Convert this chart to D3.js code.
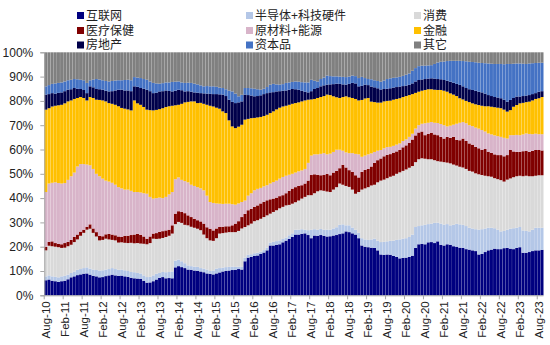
<!DOCTYPE html>
<html><head><meta charset="utf-8">
<script src="https://cdn.jsdelivr.net/npm/d3@7"></script>
<style>
body{margin:0;background:#fff}
svg{display:block;font-family:"Liberation Sans",Arial,"Noto Sans CJK SC",sans-serif}
</style>
</head><body>
<svg id="chart" width="550" height="345"></svg>
<script>
// ---------------- DATA ----------------
const monthNames = ["Jan","Feb","Mar","Apr","May","Jun","Jul","Aug","Sep","Oct","Nov","Dec"];
const categories = [];
for (let i = 0; i < 158; i++) {
  const m = (7 + i) % 12, yr = 10 + Math.floor((7 + i) / 12);
  categories.push(monthNames[m] + "-" + String(yr).padStart(2, "0"));
}
const tickLabels = ["Aug-10","Feb-11","Aug-11","Feb-12","Aug-12","Feb-13","Aug-13","Feb-14","Aug-14",
  "Feb-15","Aug-15","Feb-16","Aug-16","Feb-17","Aug-17","Feb-18","Aug-18","Feb-19","Aug-19",
  "Feb-20","Aug-20","Feb-21","Aug-21","Feb-22","Aug-22","Feb-23","Aug-23"];
const yTicks = [0,0.1,0.2,0.3,0.4,0.5,0.6,0.7,0.8,0.9,1.0];

const seriesNames = ["互联网","半导体+科技硬件","消费","医疗保健","原材料+能源","金融","房地产","资本品","其它"];
const seriesColors = ["#000080","#B4C7E7","#D9D9D9","#800000","#D8B4C9","#FFC000","#00004A","#4472C4","#808080"];

const internet = [6.2,6.5,6.0,5.8,5.5,5.8, 6.0,6.6,7.4,7.8,8.3,8.6, 8.9,9.0,8.5,8.0,7.8,7.4, 7.5,7.9,8.2,8.5,8.2,8.0,
  8.1,7.8,7.6,7.2,7.0,6.9, 6.8,6.0,5.2,5.3,5.8,6.5, 7.2,7.5,7.0,7.1,7.0,11.5, 12.0,11.6,11.2,10.6,10.5,10.2,
  10.0,9.8,9.5,9.0,8.8,8.6, 9.0,9.4,9.8,10.0,10.2,10.4, 10.5,10.8,10.6,14.0,15.5,15.8, 16.2,16.4,17.0,17.6,18.5,20.5,
  20.5,20.8,21.0,21.8,22.5,23.2, 24.0,25.0,25.0,25.3,25.5,24.8, 23.5,24.6,24.5,24.8,24.5,24.2, 24.3,24.6,24.8,25.2,25.5,26.3,
  26.0,25.5,25.0,23.5,20.5,20.0, 19.8,19.6,19.5,18.5,16.8,16.6, 16.8,16.7,16.2,15.8,15.2,15.4, 15.5,15.8,16.3,19.5,21.0,21.2,
  21.0,21.8,21.9,21.5,22.2,20.8, 20.5,21.0,20.8,20.2,20.0,19.6, 19.5,19.0,18.8,18.5,18.2,16.8, 17.0,17.8,18.5,18.8,19.2,19.0,
  19.0,19.4,19.5,19.2,19.0,19.5, 19.8,17.5,17.5,17.8,18.2,18.5, 18.5,18.7];
const semi = [1.6,1.7,1.8,1.8,1.9,2.0, 2.0,1.9,1.8,2.0,2.2,2.2, 2.3,2.5,2.5,2.6,2.6,2.8, 2.8,2.7,2.6,2.7,2.6,2.5,
  2.5,2.5,2.4,2.4,2.5,2.3, 2.2,2.2,2.3,2.3,2.4,2.4, 2.0,2.1,2.5,2.5,2.8,2.8, 2.7,2.4,2.0,1.7,1.5,1.6,
  1.7,1.4,1.5,1.6,1.2,1.6, 2.0,1.8,1.6,1.6,1.5,1.4, 1.2,1.0,1.1,1.5,1.2,1.1, 1.1,1.1,1.0,1.0,1.1,1.2,
  1.5,1.5,1.6,1.4,1.3,1.5, 1.5,2.0,2.0,1.9,1.5,2.0, 3.5,2.6,2.5,2.5,2.5,2.8, 2.7,2.9,3.2,3.8,3.7,2.5,
  2.8,2.4,2.0,2.2,3.0,3.0, 3.0,3.4,3.8,4.0,5.1,5.4, 5.4,5.7,6.3,7.0,7.8,7.9, 8.0,8.2,8.7,8.6,7.5,7.6,
  8.0,7.5,7.6,8.3,7.7,8.7, 8.6,8.3,8.0,8.8,9.4,9.6, 9.5,9.5,9.0,9.0,9.0,10.2, 10.2,9.7,9.3,9.0,8.4,8.0,
  7.3,7.1,7.5,8.2,8.6,8.3, 8.3,9.2,9.0,8.5,8.8,9.3, 9.3,9.1];
const consumer = [10.7,12.2,12.4,12.4,12.4,11.7, 11.6,11.7,11.6,12.1,12.5,13.7, 14.5,15.5,16.4,15.1,13.8,12.4, 12.5,12.7,12.2,11.6,11.8,11.2,
  11.2,11.3,11.5,12.0,11.9,12.3, 12.3,13.0,13.5,13.9,15.1,14.3, 14.1,14.0,14.5,14.9,15.6,15.0, 15.5,15.8,15.8,16.5,16.2,16.0,
  15.7,15.6,14.0,12.9,12.6,12.2, 12.5,14.2,14.2,14.2,14.3,14.2, 14.3,14.7,15.8,12.6,12.1,12.6, 13.2,13.4,13.5,13.6,13.3,11.9,
  12.3,12.7,13.2,13.2,13.2,12.5, 12.2,11.3,12.0,12.6,13.5,14.4, 14.2,14.8,15.8,15.9,16.0,15.7, 15.5,16.0,16.5,17.0,16.3,16.2,
  15.8,15.6,14.8,16.8,20.0,21.0, 21.7,22.2,22.2,24.0,25.3,25.6, 26.0,26.4,26.7,27.2,27.6,27.9, 28.3,28.5,28.2,26.7,27.5,27.6,
  27.2,26.7,26.5,25.8,25.3,25.5, 25.7,25.3,25.5,24.8,24.0,23.7, 23.6,23.5,23.4,23.4,23.0,22.8, 22.3,21.7,21.2,21.0,20.6,20.8,
  21.1,20.3,20.6,20.7,21.0,21.2, 21.1,22.3,22.7,22.7,22.0,21.4, 21.6,21.6];
const health = [1.4,1.6,2.0,1.5,1.4,1.5, 1.9,1.8,2.0,2.1,2.0,1.7, 1.3,1.2,1.8,1.8,1.8,1.9, 1.5,1.8,2.3,2.2,2.1,2.5,
  2.2,2.9,3.0,3.2,3.6,3.8, 3.6,3.0,2.3,2.7,2.1,2.4, 2.8,2.8,2.7,2.5,3.4,4.3, 4.4,4.5,4.8,4.1,4.0,3.7,
  3.5,3.6,4.5,4.5,4.8,4.3, 4.0,2.7,2.6,2.6,2.4,2.8, 3.5,4.0,4.7,5.4,6.2,6.1, 5.9,6.1,6.3,6.3,6.2,5.9,
  5.5,5.2,5.0,4.8,5.0,5.8, 6.2,6.2,6.0,5.5,5.5,6.0, 8.3,7.8,6.8,6.2,6.5,7.3, 6.9,7.0,6.7,6.3,8.2,7.6,
  6.9,7.3,7.6,6.0,7.3,7.6, 7.5,7.8,9.0,9.1,9.1,9.6, 9.6,9.3,9.5,9.2,9.2,9.7, 9.9,10.2,10.9,11.0,11.0,11.0,
  9.7,10.4,10.9,10.6,10.7,10.2, 9.7,10.6,10.5,11.4,10.6,10.9, 11.9,11.5,11.3,11.1,10.9,10.7, 10.3,11.0,10.1,9.8,9.8,9.9,
  10.3,10.4,10.1,11.7,10.6,10.0, 9.8,10.3,10.3,10.0,10.4,10.6, 10.4,10.2];
const materials = [22.6,24.0,24.1,25.0,25.0,25.0, 24.7,25.5,26.2,26.5,28.0,27.8, 27.0,25.6,24.3,24.5,24.0,24.5, 23.7,22.1,21.5,21.3,20.8,20.3,
  20.0,19.0,19.0,18.2,17.5,17.2, 17.4,17.8,18.5,16.3,14.4,14.4, 14.1,13.6,13.8,14.5,13.7,14.2, 13.9,13.2,13.2,13.6,13.3,13.5,
  13.6,13.6,13.7,13.0,11.0,11.3, 10.3,9.6,9.4,9.3,9.3,8.7, 7.8,7.3,6.2,5.5,6.0,6.4, 6.8,6.8,6.4,6.3,6.2,6.5,
  6.8,7.0,7.2,7.5,7.2,6.6, 6.1,6.0,6.0,6.1,6.0,7.3, 8.0,8.2,8.4,8.8,9.0,8.0, 8.9,8.5,8.7,7.6,5.8,6.2,
  7.0,7.7,8.8,9.5,6.2,5.9, 6.0,5.4,4.5,3.9,3.5,3.3, 3.2,3.0,2.8,2.8,2.7,2.6, 2.5,2.5,2.4,2.8,3.0,3.2,
  4.9,4.6,4.4,4.8,5.0,5.3, 5.5,4.3,5.0,5.0,6.6,7.2, 6.8,7.3,7.5,7.6,7.9,8.1, 8.2,7.2,7.5,7.6,7.8,7.8,
  7.5,7.6,6.8,6.1,6.7,7.0, 6.9,6.9,7.1,7.4,6.9,6.7, 6.5,6.7];
const finance = [33.9,31.0,31.4,31.5,32.0,32.4, 32.8,32.3,31.2,30.3,28.2,27.6, 27.2,26.4,28.1,29.2,30.5,31.4, 32.2,32.6,32.3,32.5,32.9,33.3,
  33.1,33.3,33.0,33.1,37.7,36.5, 36.1,35.5,34.6,35.7,36.3,36.3, 36.4,37.0,37.0,36.3,35.5,30.4, 29.9,31.3,32.4,33.1,34.3,34.8,
  34.6,35.2,35.6,37.4,39.6,39.7, 39.4,39.1,38.1,37.3,34.3,32.0, 31.5,31.6,31.8,33.3,31.6,30.9, 29.8,29.4,29.2,29.0,29.0,29.0,
  29.1,29.3,29.2,29.0,28.8,28.8, 28.8,28.6,28.4,28.4,28.2,26.0, 23.1,22.8,23.2,23.4,23.5,24.6, 24.1,22.9,21.6,21.3,22.1,23.1,
  23.0,22.7,22.6,22.2,23.4,23.5, 23.2,21.3,20.5,19.8,19.5,19.3, 19.0,19.0,19.0,18.8,18.6,18.1, 17.8,17.2,16.3,14.7,13.8,13.6,
  13.7,13.8,13.5,13.6,13.6,14.0, 14.2,14.3,13.3,12.4,11.4,10.1, 9.3,9.2,9.5,9.4,9.6,9.7, 10.0,10.4,11.2,11.4,11.6,11.7,
  11.8,11.6,11.1,10.3,11.7,12.3, 13.1,13.0,12.9,13.3,13.9,14.3, 14.8,15.3];
const realEstate = [6.2,5.8,5.5,5.0,5.1,5.1, 5.0,4.8,4.6,4.5,3.8,3.3, 3.3,3.0,4.4,4.4,4.4,4.4, 4.4,4.4,4.8,5.2,5.9,6.8,
  7.5,7.5,7.8,7.9,5.8,6.8, 6.9,7.5,8.2,7.8,7.1,7.1, 7.3,7.0,6.8,6.3,5.9,6.0, 6.2,5.6,4.5,4.4,4.0,3.7,
  4.3,4.0,4.3,4.6,4.9,5.1, 5.6,5.9,6.9,7.0,8.5,10.1, 10.3,10.0,9.6,10.3,9.8,9.3, 8.9,8.8,8.9,9.0,8.9,8.5,
  7.9,7.4,6.8,6.5,6.3,6.2, 6.1,5.7,5.2,4.4,3.6,3.0, 3.4,4.1,4.1,4.4,4.4,4.1, 4.4,5.0,5.6,5.8,5.2,4.8,
  5.5,6.2,6.4,5.8,5.8,5.7, 5.3,6.2,6.1,5.9,5.4,5.1, 5.0,5.1,5.0,4.9,4.8,4.5, 4.3,4.2,4.4,4.7,4.8,4.6,
  4.5,4.4,4.5,4.6,4.5,4.4, 4.4,4.5,4.8,4.9,5.0,5.5, 5.4,5.3,5.3,5.5,5.6,5.5, 5.5,5.2,4.6,4.4,4.2,4.2,
  4.1,4.1,4.1,4.2,3.6,3.5, 2.8,2.8,2.7,2.7,2.6,2.4, 2.7,2.4];
const capitalGoods = [3.4,3.7,3.8,4.2,4.1,4.1, 4.0,3.9,3.9,3.7,3.9,3.8, 4.0,4.2,2.5,3.2,4.1,4.0, 3.9,4.0,4.1,4.2,4.1,3.9,
  3.9,4.3,4.4,4.5,3.8,3.8, 4.1,4.0,4.1,4.0,4.2,3.8, 3.2,3.3,3.3,3.5,3.9,3.7, 3.4,3.2,3.5,3.5,3.6,3.6,
  3.4,3.2,2.9,3.1,3.1,3.2, 3.0,2.8,2.7,2.8,3.7,4.3, 3.9,2.5,2.7,2.7,2.9,3.0, 3.1,2.8,2.3,2.2,2.5,3.2,
  3.4,2.9,2.7,2.7,3.1,3.0, 2.9,3.2,3.3,3.5,3.8,4.1, 4.7,3.4,2.7,3.0,3.2,3.7, 3.4,3.2,3.0,3.0,3.1,3.1,
  3.0,3.0,3.0,3.4,3.7,2.7, 2.5,3.0,2.9,3.0,3.2,3.5, 4.0,4.1,4.0,4.0,4.0,4.2, 4.5,4.7,5.2,5.5,5.7,5.7,
  5.5,5.4,5.4,6.0,6.8,7.2, 7.6,8.1,8.6,9.0,9.5,9.9, 10.4,11.0,11.3,11.5,11.7,11.9, 12.1,12.5,13.0,13.3,13.6,13.8,
  14.1,14.6,15.5,14.8,14.1,13.6, 13.6,13.3,13.0,13.0,12.7,12.4, 11.9,11.7];
const others = [14.0,13.5,13.0,12.8,12.6,12.4, 12.0,11.5,11.3,11.0,11.1,11.3, 11.5,12.6,11.5,11.2,11.0,11.2, 11.5,11.8,12.0,11.8,11.6,11.5,
  11.5,11.4,11.3,11.5,10.2,10.4, 10.6,11.0,11.3,12.0,12.6,12.8, 12.9,12.7,12.4,12.4,12.2,12.1, 12.0,12.4,12.6,12.5,12.6,12.9,
  13.2,13.6,14.0,13.9,14.0,14.0, 14.2,14.5,14.7,15.2,15.8,16.1, 17.0,18.1,17.5,14.7,14.7,14.8, 15.0,15.2,15.4,15.0,14.3,13.3,
  13.0,13.2,13.3,13.1,12.6,12.4, 12.2,12.0,12.1,12.3,12.4,12.4, 11.3,11.7,12.0,11.0,10.4,9.6, 9.8,9.9,9.9,10.0,10.1,10.2,
  10.0,9.6,9.8,10.6,10.1,10.6, 11.0,11.1,11.5,11.8,12.1,11.6, 11.0,10.7,10.5,10.3,10.1,9.7, 9.2,8.7,7.6,6.5,5.7,5.5,
  5.5,5.4,5.3,4.8,4.2,3.9, 3.8,3.6,3.5,3.5,3.5,3.5, 3.6,3.7,3.9,4.0,4.1,4.3, 4.4,4.5,4.6,4.7,4.8,4.8,
  4.8,4.9,4.8,4.8,4.7,4.6, 4.6,4.7,4.8,4.6,4.5,4.4, 4.3,4.3];

const seriesValues = [internet, semi, consumer, health, materials, finance, realEstate, capitalGoods, others];

// ---------------- CHART ----------------
const svg = d3.select("#chart");
const plotL = 44.3, plotR = 543.5, plotT = 52.3, plotB = 295.3;

const table = categories.map((c, i) => {
  const row = { cat: c };
  seriesNames.forEach((k, s) => { row[k] = seriesValues[s][i]; });
  return row;
});
const stacked = d3.stack().keys(seriesNames).offset(d3.stackOffsetExpand)(table);

const x = d3.scaleBand().domain(categories).range([plotL, plotR]).paddingInner(0.05).paddingOuter(0);
const y = d3.scaleLinear().domain([0, 1]).range([plotB, plotT]);

const layers = svg.append("g").selectAll("g").data(stacked).join("g")
  .attr("fill", (d, i) => seriesColors[i]);
layers.selectAll("rect").data(d => d).join("rect")
  .attr("x", d => x(d.data.cat))
  .attr("y", d => y(d[1]))
  .attr("width", x.bandwidth())
  .attr("height", d => Math.max(0, y(d[0]) - y(d[1])));

// Y axis
const yAxis = svg.append("g").attr("transform", `translate(${plotL},0)`)
  .call(d3.axisLeft(y).tickValues(yTicks).tickFormat(d3.format(".0%")).tickSize(4).tickPadding(7));
yAxis.select(".domain").attr("stroke", "#A6A6A6");
yAxis.selectAll(".tick line").attr("stroke", "#A6A6A6");
yAxis.selectAll("text").attr("fill", "#222").style("font-size", "12px");

// X axis
const tickCats = categories.filter(c => tickLabels.includes(c));
const xAxis = svg.append("g").attr("transform", `translate(0,${plotB})`)
  .call(d3.axisBottom(x).tickValues(tickCats).tickSize(0));
xAxis.select(".domain").attr("stroke", "#A6A6A6").attr("d", `M${plotL},0.5H${plotR}`);
xAxis.selectAll("text")
  .attr("transform", "rotate(-90)")
  .attr("x", -6).attr("y", 0).attr("dy", "0.35em")
  .style("text-anchor", "end").style("font-size", "11.5px").attr("fill", "#222");
const step = x.step();
xAxis.selectAll(".bt").data(tickCats).join("line").attr("class", "bt")
  .attr("x1", d => x(d) - step * x.paddingInner() / 2).attr("x2", d => x(d) - step * x.paddingInner() / 2)
  .attr("y1", 0).attr("y2", 4).attr("stroke", "#A6A6A6");

// Legend
const legendCols = [77, 246, 414];
const legendRows = [15.5, 30.5, 45];
const legend = svg.append("g");
seriesNames.forEach((name, i) => {
  const cx = legendCols[i % 3], cy = legendRows[Math.floor(i / 3)];
  legend.append("rect").attr("x", cx).attr("y", cy - 3.5).attr("width", 7).attr("height", 7).attr("fill", seriesColors[i]);
  legend.append("text").attr("x", cx + 9).attr("y", cy).attr("dy", "0.36em")
    .style("font-size", "12px").attr("fill", "#222")
    .style("font-family", "'Liberation Sans','Noto Sans CJK SC',sans-serif")
    .text(name);
});
</script>
</body></html>
